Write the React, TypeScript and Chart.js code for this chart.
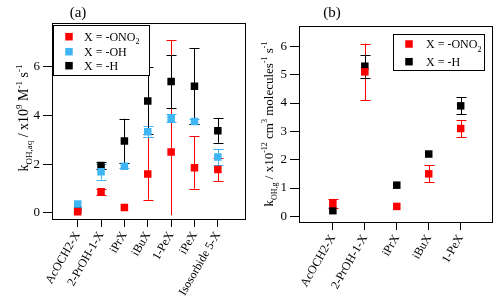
import React, { useEffect, useRef } from 'react';
import { Chart, registerables } from 'chart.js';
Chart.register(...registerables);

const FONT = '"Liberation Serif", "DejaVu Serif", serif';
const RED = '#ff0000';
const BLUE = '#3fb5f3';
const BLACK = '#000000';

// Panel (a)
const catsA = ['AcOCH2-X', '2-PrOH-1-X', 'iPrX', 'iBuX', '1-PeX', 'iPeX', 'Isosorbide 5-X'];
const onoA = [0.05, 0.87, 0.22, 1.6, 2.5, 1.85, 1.78];
const onoAErr: ([number, number] | null)[] = [null, [0.75, 1.0], null, [0.55, 3.1], [-0.1, 7.09], [1.0, 3.14], [1.3, 2.26]];
const ohA = [0.37, 1.69, 1.92, 3.33, 3.88, 3.75, 2.3];
const ohAErr: ([number, number] | null)[] = [null, [1.37, 2.0], [1.85, 2.05], [3.1, 3.57], [3.72, 4.05], [3.65, 3.85], [1.95, 2.63]];
const hA = [0.12, 1.95, 2.95, 4.6, 5.4, 5.2, 3.37];
const hAErr: ([number, number] | null)[] = [null, [1.82, 2.08], [2.05, 3.87], [3.24, 6.0], [4.31, 6.47], [3.65, 6.76], [2.88, 3.9]];
const yTicksA = [0, 2, 4, 6];

// Panel (b)
const catsB = ['AcOCH2-X', '2-PrOH-1-X', 'iPrX', 'iBuX', '1-PeX'];
const onoB = [0.45, 5.1, 0.35, 1.5, 3.1];
const onoBErr: ([number, number] | null)[] = [[0.3, 0.62], [4.1, 6.1], null, [1.2, 1.8], [2.8, 3.4]];
const hB = [0.2, 5.3, 1.1, 2.2, 3.9];
const hBErr: ([number, number] | null)[] = [null, [4.9, 5.7], null, null, [3.6, 4.2]];
const yTicksB = [0, 1, 2, 3, 4, 5, 6];

type Seg = { t: string; k?: 'sub' | 'sup' };

const legendONO2: Seg[] = [{ t: 'X = -ONO' }, { t: '2', k: 'sub' }];
const legendOH: Seg[] = [{ t: 'X = -OH' }];
const legendH: Seg[] = [{ t: 'X = -H' }];

const ylabelA: Seg[] = [
  { t: 'k' }, { t: 'OH,aq', k: 'sub' }, { t: ' / x10' }, { t: '9', k: 'sup' },
  { t: ' M' }, { t: '-1', k: 'sup' }, { t: ' s' }, { t: '-1', k: 'sup' },
];
const ylabelB: Seg[] = [
  { t: 'k' }, { t: 'OH,g', k: 'sub' }, { t: ' / x10' }, { t: '-12', k: 'sup' },
  { t: ' cm' }, { t: '3', k: 'sup' }, { t: ' molecules' }, { t: '-1', k: 'sup' },
  { t: ' s' }, { t: '-1', k: 'sup' },
];

function drawRich(ctx: CanvasRenderingContext2D, segs: Seg[], x: number, y: number, size: number, align: 'left' | 'center', rot = 0) {
  const small = Math.round(size * 0.65);
  ctx.save();
  ctx.translate(x, y);
  ctx.rotate(rot);
  ctx.fillStyle = '#000';
  ctx.textBaseline = 'alphabetic';
  ctx.textAlign = 'left';
  let total = 0;
  const widths = segs.map((s) => {
    ctx.font = `${s.k ? small : size}px ${FONT}`;
    const w = ctx.measureText(s.t).width;
    total += w;
    return w;
  });
  let cx = align === 'center' ? -total / 2 : 0;
  segs.forEach((s, i) => {
    ctx.font = `${s.k ? small : size}px ${FONT}`;
    const dy = s.k === 'sub' ? size * 0.3 : s.k === 'sup' ? -size * 0.45 : 0;
    ctx.fillText(s.t, cx, dy);
    cx += widths[i];
  });
  ctx.restore();
}

type PanelCfg = {
  cats: string[];
  series: { data: number[]; err: ([number, number] | null)[]; color: string }[];
  yTicks: number[];
  yMin: number;
  yMax: number;
  xMin: number;
  xMax: number;
  yWidth: number;
  xHeight: number;
  padTop: number;
  padRight: number;
  title: string;
  titleX: number;
  ylabel: Seg[];
  ylabelX: number;
  ylabelY: number;
  ylabelSize: number;
  legend: { items: { segs: Seg[]; color: string }[]; box: [number, number, number, number]; markerX: number; textX: number; rows: number[] };
};

function makeChart(canvas: HTMLCanvasElement, p: PanelCfg) {
  const errPlugin = {
    id: 'errbars',
    beforeDatasetsDraw(chart: any) {
      const ctx = chart.ctx as CanvasRenderingContext2D;
      const xs = chart.scales.x;
      const ys = chart.scales.y;
      ctx.save();
      ctx.lineWidth = 1;
      chart.data.datasets.forEach((ds: any) => {
        ctx.strokeStyle = ds.backgroundColor;
        (ds.errors as ([number, number] | null)[]).forEach((e, i) => {
          if (!e) return;
          const px = Math.round(xs.getPixelForValue(i)) + 0.5;
          const y1 = ys.getPixelForValue(e[0]);
          const y2 = ys.getPixelForValue(e[1]);
          ctx.beginPath();
          ctx.moveTo(px, y1);
          ctx.lineTo(px, y2);
          if (e[0] >= 0) {
            ctx.moveTo(px - 5, Math.round(y1) + 0.5);
            ctx.lineTo(px + 5, Math.round(y1) + 0.5);
          }
          ctx.moveTo(px - 5, Math.round(y2) + 0.5);
          ctx.lineTo(px + 5, Math.round(y2) + 0.5);
          ctx.stroke();
        });
      });
      ctx.restore();
    },
  };
  const decoPlugin = {
    id: 'deco',
    afterDraw(chart: any) {
      const ctx = chart.ctx as CanvasRenderingContext2D;
      const a = chart.chartArea;
      ctx.save();
      ctx.strokeStyle = '#000';
      ctx.lineWidth = 1;
      ctx.strokeRect(Math.round(a.left) + 0.5, Math.round(a.top) + 0.5, Math.round(a.right - a.left), Math.round(a.bottom - a.top));
      // legend
      const [bx, by, bw, bh] = p.legend.box;
      ctx.fillStyle = '#fff';
      ctx.fillRect(bx, by, bw, bh);
      ctx.strokeRect(bx + 0.5, by + 0.5, bw, bh);
      p.legend.items.forEach((it, i) => {
        const ry = p.legend.rows[i];
        ctx.fillStyle = it.color;
        ctx.fillRect(p.legend.markerX - 3.75, ry - 3.75, 7.5, 7.5);
        drawRich(ctx, it.segs, p.legend.textX, ry + 4, 12, 'left');
      });
      // title
      ctx.fillStyle = '#000';
      ctx.font = `15px ${FONT}`;
      ctx.textAlign = 'center';
      ctx.textBaseline = 'alphabetic';
      ctx.fillText(p.title, p.titleX, 17);
      ctx.restore();
      drawRich(ctx, p.ylabel, p.ylabelX, p.ylabelY, p.ylabelSize, 'center', -Math.PI / 2);
    },
  };
  return new Chart(canvas, {
    type: 'scatter',
    data: {
      datasets: p.series.map((s) => ({
        data: s.data.map((v, i) => ({ x: i, y: v })),
        backgroundColor: s.color,
        borderColor: s.color,
        borderWidth: 0,
        pointStyle: 'rect',
        pointRadius: 5.3,
        pointHoverRadius: 5.3,
        errors: s.err,
      })) as any,
    },
    options: {
      responsive: false,
      animation: false,
      events: [],
      layout: { padding: { top: p.padTop, right: p.padRight, left: 0, bottom: 0 } },
      plugins: { legend: { display: false }, tooltip: { enabled: false }, title: { display: false } },
      scales: {
        x: {
          type: 'linear',
          min: p.xMin,
          max: p.xMax,
          afterBuildTicks: (s: any) => {
            s.ticks = p.cats.map((_, i) => ({ value: i }));
          },
          afterFit: (s: any) => {
            s.height = p.xHeight;
          },
          ticks: {
            autoSkip: false,
            minRotation: 60,
            maxRotation: 60,
            padding: 2,
            color: '#000',
            font: { family: FONT, size: 12 },
            callback: (v: any) => p.cats[Math.round(Number(v))] ?? '',
          },
          grid: { drawOnChartArea: false, drawTicks: true, tickLength: 8, color: '#000', lineWidth: 1 },
          border: { display: false },
        },
        y: {
          type: 'linear',
          min: p.yMin,
          max: p.yMax,
          afterBuildTicks: (s: any) => {
            s.ticks = p.yTicks.map((v) => ({ value: v }));
          },
          afterFit: (s: any) => {
            s.width = p.yWidth;
          },
          ticks: { padding: 3, color: '#000', font: { family: FONT, size: 13 } },
          grid: { drawOnChartArea: false, drawTicks: true, tickLength: 9, color: '#000', lineWidth: 1 },
          border: { display: false },
        },
      },
    },
    plugins: [errPlugin, decoPlugin],
  } as any);
}

const panelA: PanelCfg = {
  cats: catsA,
  series: [
    { data: onoA, err: onoAErr, color: RED },
    { data: ohA, err: ohAErr, color: BLUE },
    { data: hA, err: hAErr, color: BLACK },
  ],
  yTicks: yTicksA,
  yMin: -0.25,
  yMax: 7.8,
  xMin: -1.1,
  xMax: 7.15,
  yWidth: 52,
  xHeight: 83,
  padTop: 23,
  padRight: 2,
  title: '(a)',
  titleX: 78,
  ylabel: ylabelA,
  ylabelX: 28,
  ylabelY: 118,
  ylabelSize: 14,
  legend: {
    items: [
      { segs: legendONO2, color: RED },
      { segs: legendOH, color: BLUE },
      { segs: legendH, color: BLACK },
    ],
    box: [53, 25, 96, 50],
    markerX: 69,
    textX: 84,
    rows: [36.7, 51.7, 65.7],
  },
};

const panelB: PanelCfg = {
  cats: catsB,
  series: [
    { data: onoB, err: onoBErr, color: RED },
    { data: hB, err: hBErr, color: BLACK },
  ],
  yTicks: yTicksB,
  yMin: -0.2,
  yMax: 6.72,
  xMin: -1.06,
  xMax: 4.98,
  yWidth: 49,
  xHeight: 80,
  padTop: 26,
  padRight: 8,
  title: '(b)',
  titleX: 82,
  ylabel: ylabelB,
  ylabelX: 23,
  ylabelY: 124,
  ylabelSize: 13,
  legend: {
    items: [
      { segs: legendONO2, color: RED },
      { segs: legendH, color: BLACK },
    ],
    box: [143, 34, 91, 36],
    markerX: 159,
    textX: 176,
    rows: [44, 61.7],
  },
};

function Panel({ cfg, left }: { cfg: PanelCfg; left: number }) {
  const ref = useRef<HTMLCanvasElement>(null);
  useEffect(() => {
    if (!ref.current) return;
    const c = makeChart(ref.current, cfg);
    return () => c.destroy();
  }, [cfg]);
  return (
    <canvas
      ref={ref}
      width={250}
      height={302}
      style={{ position: 'absolute', left, top: 0, width: 250, height: 302 }}
    />
  );
}

export default function App() {
  return (
    <div style={{ position: 'fixed', left: 0, top: 0, width: 500, height: 302, background: '#fff' }}>
      <Panel cfg={panelA} left={0} />
      <Panel cfg={panelB} left={250} />
    </div>
  );
}
